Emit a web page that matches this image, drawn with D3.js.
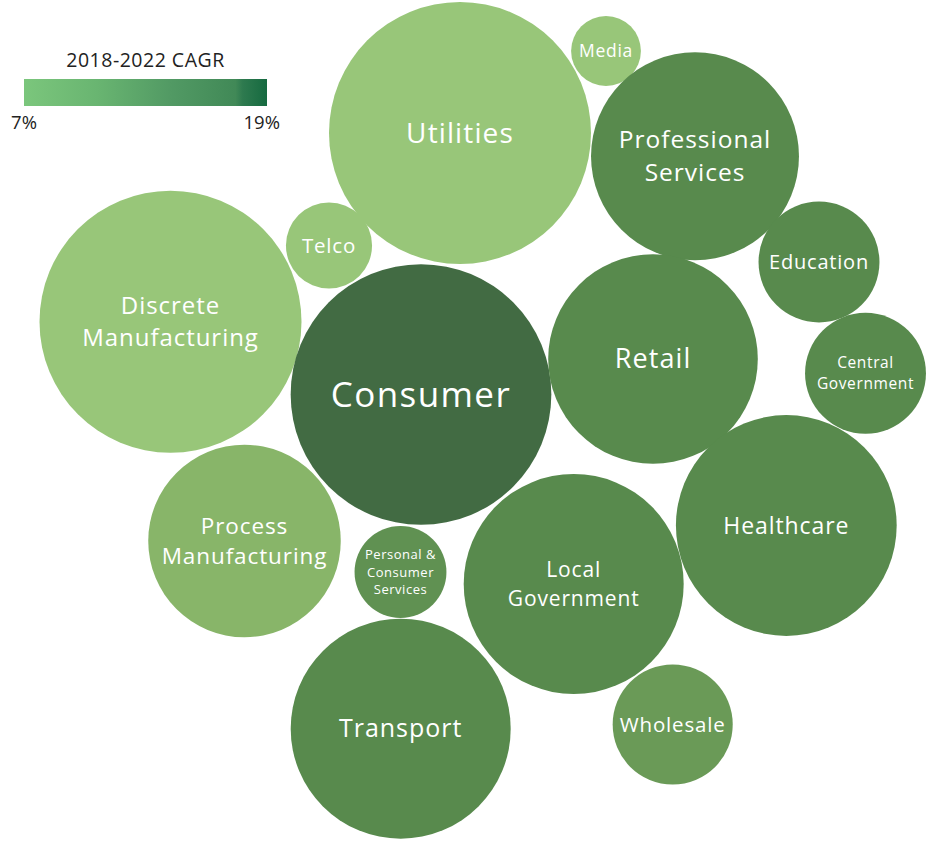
<!DOCTYPE html>
<html>
<head>
<meta charset="utf-8">
<script src="https://cdn.jsdelivr.net/npm/d3@7"></script>
<style>
  html, body { margin: 0; padding: 0; background: #fff; }
  svg { display: block; font-family: "Open Sans", "Noto Sans", sans-serif; }
</style>
</head>
<body>
<svg id="bubble-chart" width="932" height="843"></svg>
<script>
// Sectors, relative market size (area) and 2018-2022 CAGR (%)
const sectors = ['Utilities', 'Media', 'Professional Services', 'Telco', 'Discrete Manufacturing',
  'Consumer', 'Retail', 'Education', 'Central Government', 'Healthcare',
  'Process Manufacturing', 'Personal & Consumer Services', 'Local Government', 'Transport', 'Wholesale'];
const sizes = [100, 7.1, 63, 10.8, 100, 99, 64, 21.3, 21.3, 71, 54, 12.3, 70.5, 70.5, 21];
const cagr = [7.4, 7.4, 16, 7.4, 7.4, 19, 16, 16, 16, 16, 10, 15, 16, 16, 13.8];

// label lines for each bubble
const labelLines = [['Utilities'], ['Media'], ['Professional', 'Services'], ['Telco'], ['Discrete', 'Manufacturing'],
  ['Consumer'], ['Retail'], ['Education'], ['Central', 'Government'], ['Healthcare'],
  ['Process', 'Manufacturing'], ['Personal &', 'Consumer', 'Services'], ['Local', 'Government'], ['Transport'], ['Wholesale']];

// arrangement of the bubbles in a 932 x 843 design space (layout anchors for the simulation)
const layoutX = [460, 606, 695, 329, 170.5, 421, 653, 819, 865.5, 786.3, 244.5, 400.5, 573.7, 400.7, 672.7];
const layoutY = [133, 51, 156.3, 245.5, 321.7, 394.5, 359, 262, 373.3, 525.5, 541, 572, 584, 728.7, 724.5];

const legendTicks = [7, 19];

document.addEventListener("DOMContentLoaded", function () {
    const svg = d3.select("#bubble-chart");
    const width = 932, height = 843;

    const x = d3.scaleLinear().domain([0, 932]).range([0, width]);
    const y = d3.scaleLinear().domain([0, 843]).range([0, height]);
    const r = d3.scaleSqrt().domain([0, 100]).range([0, 131]);
    const color = d3.scaleLinear()
        .domain([7, 10, 16, 19])
        .range(["#9bc97b", "#88b569", "#588a4d", "#426b43"]);

    // font size per label (the original uses hand-set sizes)
    const fontSizes = [28, 17.5, 24.5, 20.5, 24, 35, 27, 20, 15.5, 23, 22.5, 13, 21, 25, 20.5];

    const nodes = sectors.map((name, i) => ({
        name: name,
        value: sizes[i],
        cagr: cagr[i],
        lines: labelLines[i],
        fs: fontSizes[i],
        r: r(sizes[i]),
        ax: x(layoutX[i]),
        ay: y(layoutY[i]),
        x: x(layoutX[i]),
        y: y(layoutY[i])
    }));

    // light collision pass, bubbles in the original nearly touch
    const simulation = d3.forceSimulation(nodes)
        .force("x", d3.forceX(d => d.ax).strength(0.8))
        .force("y", d3.forceY(d => d.ay).strength(0.8))
        .force("collide", d3.forceCollide(d => d.r - 3))
        .stop();
    for (let i = 0; i < 120; i++) simulation.tick();

    const bubbles = svg.append("g")
        .selectAll("g")
        .data(nodes)
        .join("g")
        .attr("transform", d => `translate(${d.x},${d.y})`);

    bubbles.append("circle")
        .attr("r", d => d.r)
        .attr("fill", d => color(d.cagr));

    bubbles.append("text")
        .attr("text-anchor", "middle")
        .attr("fill", "#fff")
        .attr("font-size", d => d.fs)
        .attr("letter-spacing", d => (d.fs * 0.04) + "px")
        .each(function (d) {
            const lh = d.fs * 1.35;
            const n = d.lines.length;
            d3.select(this).selectAll("tspan")
                .data(d.lines)
                .join("tspan")
                .attr("x", 0)
                .attr("y", (t, i) => (i - (n - 1) / 2) * lh)
                .attr("dy", "0.35em")
                .text(t => t);
        });

    // Legend
    const legendX = d3.scaleLinear().domain([7, 19]).range([24, 267]);
    const defs = svg.append("defs");
    const grad = defs.append("linearGradient").attr("id", "cagr-grad");
    [[0, "#7bc67c"], [0.3, "#69b571"], [0.6, "#529a64"], [0.87, "#418957"], [0.9, "#2e7a4f"], [1, "#166a40"]]
        .forEach(s => grad.append("stop").attr("offset", s[0]).attr("stop-color", s[1]));

    const legend = svg.append("g");
    legend.append("rect")
        .attr("x", legendX(7))
        .attr("y", 79)
        .attr("width", legendX(19) - legendX(7))
        .attr("height", 27)
        .attr("fill", "url(#cagr-grad)");

    legend.append("text")
        .attr("x", (legendX(7) + legendX(19)) / 2)
        .attr("y", 67)
        .attr("text-anchor", "middle")
        .attr("font-size", 19.5)
        .attr("letter-spacing", "0.5px")
        .attr("fill", "#222")
        .text("2018-2022 CAGR");

    legend.selectAll(".tick-label")
        .data(legendTicks)
        .join("text")
        .attr("class", "tick-label")
        .attr("x", (d, i) => i === 0 ? legendX(d) : legendX(d) + 13)
        .attr("y", 129)
        .attr("text-anchor", (d, i) => i === 0 ? "middle" : "end")
        .attr("font-size", 18.5)
        .attr("fill", "#222")
        .text(d => d + "%");
});
</script>
</body>
</html>
